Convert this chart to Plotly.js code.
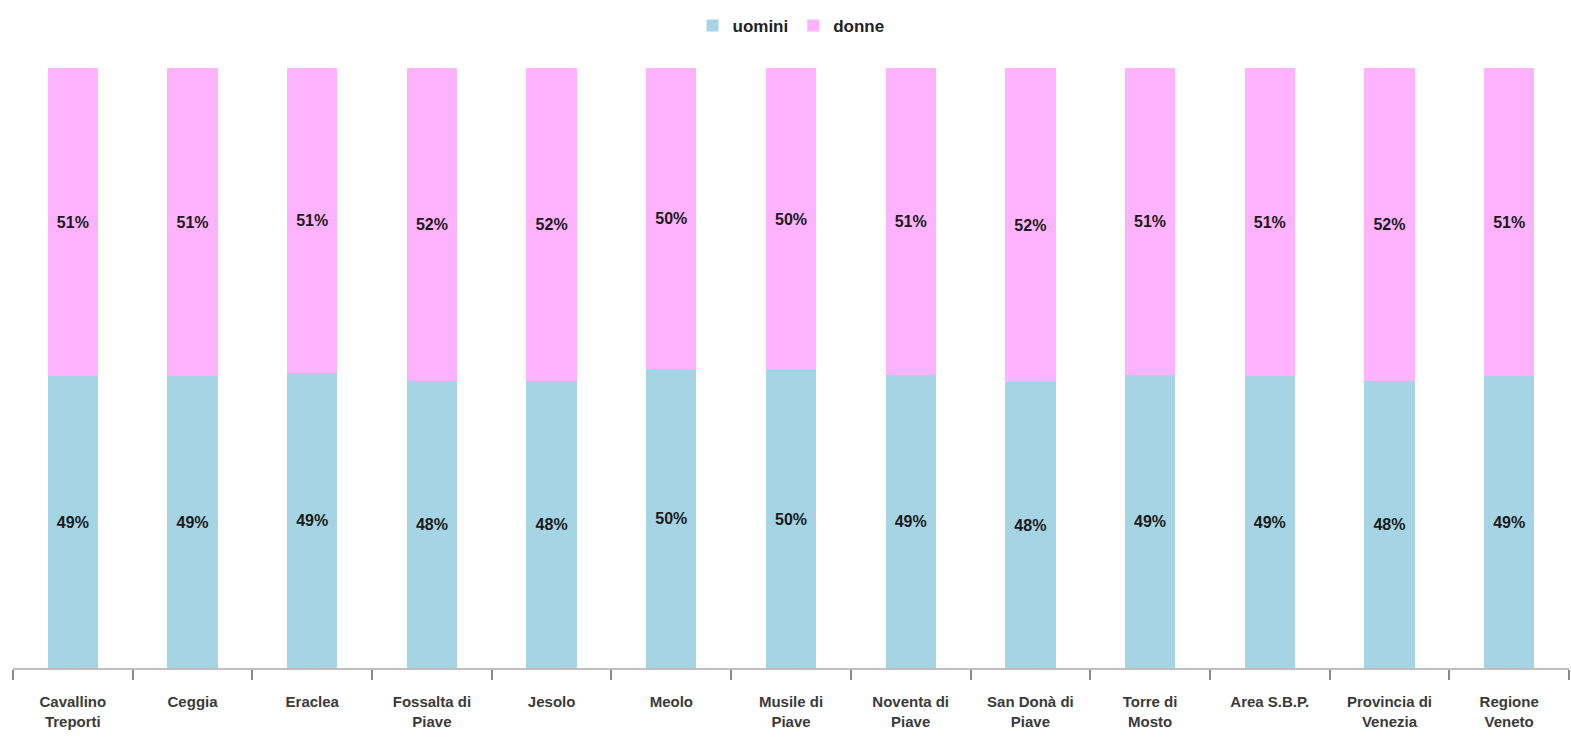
<!DOCTYPE html>
<html>
<head>
<meta charset="utf-8">
<script src="https://cdn.plot.ly/plotly-3.0.1.min.js"></script>
<style>html,body{margin:0;padding:0;background:#fff;}#chart{width:1571px;height:741px;}</style>
</head>
<body>
<div id="chart"></div>
<script>
const categories = [
  "Cavallino<br>Treporti", "Ceggia", "Eraclea", "Fossalta di<br>Piave", "Jesolo", "Meolo",
  "Musile di<br>Piave", "Noventa di<br>Piave", "San Donà di<br>Piave", "Torre di<br>Mosto",
  "Area S.B.P.", "Provincia di<br>Venezia", "Regione<br>Veneto"
];
const uomini = [48.6, 48.6, 49.1, 47.8, 47.9, 49.9, 49.6, 48.8, 47.6, 48.9, 48.6, 47.9, 48.6];
const donne  = [51.4, 51.4, 50.9, 52.2, 52.1, 50.1, 50.4, 51.2, 52.4, 51.1, 51.4, 52.1, 51.4];
const labelsUomini = ["49%","49%","49%","48%","48%","50%","50%","49%","48%","49%","49%","48%","49%"];
const labelsDonne  = ["51%","51%","51%","52%","52%","50%","50%","51%","52%","51%","51%","52%","51%"];

const textFont = {family: "Liberation Sans, Arial, sans-serif", size: 16, color: "#1a1a1a", weight: "bold"};
const traces = [
  {type: "bar", name: "uomini", x: categories, y: uomini, text: labelsUomini,
   textposition: "inside", insidetextanchor: "middle", textfont: textFont, constraintext: "none",
   marker: {color: "#A5D5E5"}, hoverinfo: "x+y"},
  {type: "bar", name: "donne", x: categories, y: donne, text: labelsDonne,
   textposition: "inside", insidetextanchor: "middle", textfont: textFont, constraintext: "none",
   marker: {color: "#FFB3FF"}, hoverinfo: "x+y"}
];
const layout = {
  width: 1571, height: 741,
  margin: {l: 13, r: 2, t: 68, b: 73},
  barmode: "stack", bargap: 0.58,
  paper_bgcolor: "#fff", plot_bgcolor: "#fff",
  font: {family: "Liberation Sans, Arial, sans-serif", size: 14, color: "#333"},
  showlegend: true,
  legend: {orientation: "h", x: 0.5, xanchor: "center", y: 1.07, yanchor: "middle",
           font: {size: 17, color: "#222", weight: "bold"}, itemwidth: 30, traceorder: "normal"},
  xaxis: {showline: true, linecolor: "#BFBFBF", linewidth: 2, ticks: "outside", tickson: "boundaries",
          ticklen: 10, tickcolor: "#888", tickwidth: 2, showgrid: false, zeroline: false,
          ticklabelstandoff: 19,
          tickfont: {size: 15, color: "#3a3a3a", weight: "bold"}},
  yaxis: {range: [0, 100], visible: false, showgrid: false, zeroline: false}
};
Plotly.newPlot("chart", traces, layout, {displayModeBar: false, staticPlot: true});
</script>
</body>
</html>
